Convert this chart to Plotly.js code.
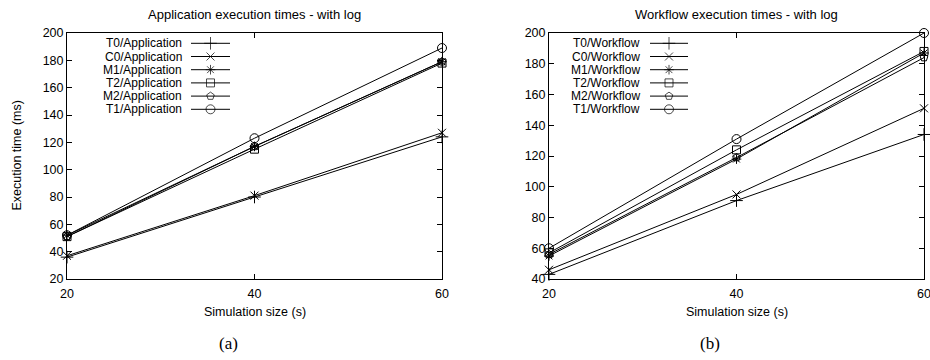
<!DOCTYPE html>
<html>
<head>
<meta charset="utf-8">
<script src="https://cdn.plot.ly/plotly-3.0.1.min.js"></script>
<style>html,body{margin:0;padding:0;background:#fff;}#chart{width:930px;height:360px;}</style>
</head>
<body>
<div id="chart"></div>
<script>
// ---- data ----
const sizes = [20, 40, 60];
const seriesNames = ["T0", "C0", "M1", "T2", "M2", "T1"];
const appT0 = [36, 80, 124];
const appC0 = [37, 81, 127];
const appM1 = [52, 117, 179];
const appT2 = [51, 115, 178];
const appM2 = [51, 117, 179];
const appT1 = [52, 123, 189];
const wfT0 = [43, 91, 134];
const wfC0 = [46, 95, 151];
const wfM1 = [55, 118, 187];
const wfT2 = [57, 124, 188];
const wfM2 = [56, 119, 184];
const wfT1 = [60, 131, 200];
const xTicks = [20, 40, 60];
const yTicksApp = [20, 40, 60, 80, 100, 120, 140, 160, 180, 200];
const yTicksWf = [40, 60, 80, 100, 120, 140, 160, 180, 200];

// ---- styling ----
const symbols = ["cross-thin-open", "x-thin-open", "asterisk-open", "square-open", "pentagon-open", "circle-open"];
const msizes = [9, 8, 8, 8, 8, 9];
const FONT = "Liberation Sans, Arial, Helvetica, sans-serif";
const FS = 12.5;
const LFS = 12;
const W = 930, H = 360;

const appData = [appT0, appC0, appM1, appT2, appM2, appT1];
const wfData = [wfT0, wfC0, wfM1, wfT2, wfM2, wfT1];

function seriesTraces(data, suffix, xa, ya) {
  return data.map((vals, i) => ({
    type: "scatter", mode: "lines+markers",
    x: sizes, y: vals, xaxis: xa, yaxis: ya,
    name: seriesNames[i] + "/" + suffix, showlegend: false,
    cliponaxis: false,
    line: {color: "#000", width: 1},
    marker: {symbol: symbols[i], size: msizes[i], color: "#000", line: {color: "#000", width: 1}}
  }));
}

// legend key samples (gnuplot style: text right, key line to the right) drawn on an overlay pixel axis
const legendRow0 = 43.3, legendStep = 13.2;
function legendKeys(suffix, textRight, lineX0, lineX1) {
  const traces = [], anns = [];
  seriesNames.forEach((n, i) => {
    const yy = legendRow0 + i * legendStep;
    traces.push({
      type: "scatter", mode: "lines+markers", xaxis: "x3", yaxis: "y3",
      x: [lineX0, (lineX0 + lineX1) / 2, lineX1], y: [yy, yy, yy],
      showlegend: false, hoverinfo: "skip", cliponaxis: false,
      line: {color: "#000", width: 1},
      marker: {symbol: symbols[i], size: [0, msizes[i], 0], color: "#000", line: {color: "#000", width: 1}}
    });
    anns.push({
      xref: "paper", yref: "paper", x: textRight / W, y: 1 - yy / H,
      xanchor: "right", yanchor: "middle", showarrow: false, borderpad: 0,
      text: n + "/" + suffix, font: {family: FONT, size: LFS, color: "#000"}
    });
  });
  return {traces, anns};
}

const legA = legendKeys("Application", 183, 191, 230);
const legB = legendKeys("Workflow", 641, 650, 688);

const traces = [].concat(
  seriesTraces(appData, "Application", "x", "y"),
  seriesTraces(wfData, "Workflow", "x2", "y2"),
  legA.traces, legB.traces
);

const yDom = [81 / H, 327 / H];
const axisCommon = {
  showline: true, linecolor: "#000", linewidth: 1, mirror: "ticks",
  ticks: "inside", ticklen: 5, tickcolor: "#000", tickwidth: 1,
  showgrid: false, zeroline: false, tickmode: "array", ticklabeloverflow: "allow",
  tickfont: {family: FONT, size: FS, color: "#000"}, fixedrange: true
};

const layout = {
  width: W, height: H,
  margin: {l: 0, r: 0, t: 0, b: 0},
  paper_bgcolor: "#fff", plot_bgcolor: "rgba(0,0,0,0)",
  showlegend: false,
  font: {family: FONT, size: FS, color: "#000"},
  xaxis: Object.assign({}, axisCommon, {domain: [67 / W, 442 / W], range: [20, 60], tickvals: xTicks, anchor: "y", ticklabelstandoff: 3}),
  yaxis: Object.assign({}, axisCommon, {domain: yDom, range: [20, 200], tickvals: yTicksApp, anchor: "x"}),
  xaxis2: Object.assign({}, axisCommon, {domain: [549 / W, 924 / W], range: [20, 60], tickvals: xTicks, anchor: "y2", ticklabelstandoff: 3}),
  yaxis2: Object.assign({}, axisCommon, {domain: yDom, range: [40, 200], tickvals: yTicksWf, anchor: "x2"}),
  xaxis3: {domain: [0, 1], range: [0, W], visible: false, anchor: "y3", fixedrange: true},
  yaxis3: {domain: [0, 1], range: [H, 0], visible: false, anchor: "x3", fixedrange: true},
  annotations: [
    {xref: "paper", yref: "paper", x: 254.5 / W, y: 1 - 15 / H, xanchor: "center", yanchor: "middle", showarrow: false,
     text: "Application execution times - with log", font: {family: FONT, size: 13, color: "#000"}},
    {xref: "paper", yref: "paper", x: 736.5 / W, y: 1 - 15 / H, xanchor: "center", yanchor: "middle", showarrow: false,
     text: "Workflow execution times - with log", font: {family: FONT, size: 13, color: "#000"}},
    {xref: "paper", yref: "paper", x: 254.5 / W, y: 1 - 312 / H, xanchor: "center", yanchor: "middle", showarrow: false,
     text: "Simulation size (s)", font: {family: FONT, size: FS, color: "#000"}},
    {xref: "paper", yref: "paper", x: 736.5 / W, y: 1 - 312 / H, xanchor: "center", yanchor: "middle", showarrow: false,
     text: "Simulation size (s)", font: {family: FONT, size: FS, color: "#000"}},
    {xref: "paper", yref: "paper", x: 16.5 / W, y: 1 - 156 / H, xanchor: "center", yanchor: "middle", showarrow: false,
     textangle: -90, text: "Execution time (ms)", font: {family: FONT, size: FS, color: "#000"}},
    {xref: "paper", yref: "paper", x: 228 / W, y: 1 - 343 / H, xanchor: "center", yanchor: "middle", showarrow: false,
     text: "(a)", font: {family: "Liberation Serif, Times New Roman, serif", size: 17, color: "#000"}},
    {xref: "paper", yref: "paper", x: 710 / W, y: 1 - 343 / H, xanchor: "center", yanchor: "middle", showarrow: false,
     text: "(b)", font: {family: "Liberation Serif, Times New Roman, serif", size: 17, color: "#000"}}
  ].concat(legA.anns, legB.anns)
};

Plotly.newPlot("chart", traces, layout, {staticPlot: true, displayModeBar: false});
</script>
</body>
</html>
